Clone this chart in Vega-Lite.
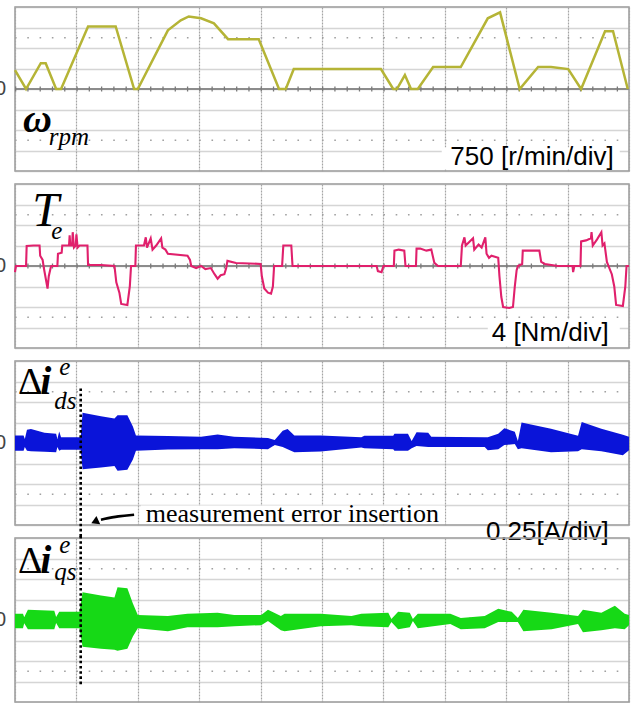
{
 "$schema": "https://vega.github.io/schema/vega-lite/v6.json",
 "padding": {"left": -6, "top": 6, "right": 0, "bottom": 0},
 "background": "white",
 "bounds": "flush",
 "spacing": 13,
 "config": {
  "view": {"stroke": "#9a9a9a", "strokeWidth": 1.5},
  "axis": {"labels": false, "ticks": false, "domain": false, "grid": true},
  "axisX": {"tickCount": 10, "gridColor": "#a5a5a5", "gridDash": [2, 1], "gridWidth": 1.2},
  "axisY": {"tickCount": 8, "gridColor": "#aaaaaa", "gridDash": [1, 1], "gridWidth": 1.6}
 },
 "datasets": {
  "hrows": [{"x": 0, "x2": 10, "y": 2.5}, {"x": 0, "x2": 10, "y": -2.5}],
  "crow": [{"x": 0, "x2": 10, "y": 0}],
  "zero": [{"x": 0, "y": 0, "t": "0"}],
  "speed": [{"x":0,"y":0.92},{"x":0.18,"y":0},{"x":0.42,"y":1.26},{"x":0.5,"y":1.26},{"x":0.67,"y":0},{"x":0.75,"y":0},{"x":1.19,"y":3.05},{"x":1.64,"y":3.05},{"x":1.94,"y":0},{"x":2.0,"y":0},{"x":2.49,"y":2.86},{"x":2.7,"y":3.35},{"x":2.83,"y":3.54},{"x":3.03,"y":3.45},{"x":3.24,"y":3.2},{"x":3.47,"y":2.43},{"x":3.97,"y":2.43},{"x":4.3,"y":0},{"x":4.41,"y":0},{"x":4.54,"y":0.97},{"x":5.96,"y":0.97},{"x":6.16,"y":0},{"x":6.22,"y":0},{"x":6.35,"y":0.68},{"x":6.45,"y":0},{"x":6.56,"y":0},{"x":6.81,"y":1.07},{"x":7.26,"y":1.07},{"x":7.7,"y":3.45},{"x":7.9,"y":3.74},{"x":8.22,"y":0},{"x":8.52,"y":1.07},{"x":8.73,"y":1.07},{"x":9.01,"y":0.97},{"x":9.22,"y":0},{"x":9.61,"y":2.82},{"x":9.74,"y":2.82},{"x":9.98,"y":0}],
  "torque": [{"x":0,"y":-0.3},{"x":0.015,"y":0},{"x":0.18,"y":0},{"x":0.19,"y":0.98},{"x":0.3,"y":1.0},{"x":0.4,"y":1.0},{"x":0.41,"y":0.5},{"x":0.45,"y":0.3},{"x":0.47,"y":-0.1},{"x":0.5,"y":-0.6},{"x":0.53,"y":-1.1},{"x":0.55,"y":-0.5},{"x":0.58,"y":-0.1},{"x":0.59,"y":0},{"x":0.69,"y":0},{"x":0.7,"y":0.6},{"x":0.76,"y":0.65},{"x":0.77,"y":1.0},{"x":0.88,"y":1.0},{"x":0.89,"y":1.5},{"x":0.9,"y":1.0},{"x":0.93,"y":1.0},{"x":0.94,"y":1.65},{"x":0.96,"y":0.9},{"x":0.99,"y":1.0},{"x":1.0,"y":1.55},{"x":1.02,"y":0.9},{"x":1.05,"y":1.0},{"x":1.18,"y":1.0},{"x":1.19,"y":0.05},{"x":1.4,"y":0.05},{"x":1.62,"y":0},{"x":1.65,"y":-0.8},{"x":1.7,"y":-1.3},{"x":1.73,"y":-1.85},{"x":1.83,"y":-1.9},{"x":1.87,"y":-1.0},{"x":1.89,"y":0},{"x":1.96,"y":0},{"x":1.97,"y":1.0},{"x":2.1,"y":1.0},{"x":2.13,"y":1.4},{"x":2.15,"y":0.9},{"x":2.21,"y":1.35},{"x":2.24,"y":0.8},{"x":2.3,"y":1.0},{"x":2.38,"y":1.35},{"x":2.4,"y":0.9},{"x":2.45,"y":0.8},{"x":2.49,"y":0.6},{"x":2.81,"y":0.5},{"x":2.85,"y":0.3},{"x":2.87,"y":0},{"x":2.95,"y":-0.1},{"x":3.03,"y":0},{"x":3.1,"y":-0.15},{"x":3.19,"y":-0.1},{"x":3.25,"y":-0.4},{"x":3.3,"y":-0.62},{"x":3.35,"y":-0.45},{"x":3.41,"y":-0.4},{"x":3.44,"y":-0.1},{"x":3.46,"y":0.25},{"x":3.6,"y":0.15},{"x":4.0,"y":0.1},{"x":4.02,"y":-0.5},{"x":4.06,"y":-1.1},{"x":4.12,"y":-1.3},{"x":4.17,"y":-1.35},{"x":4.2,"y":-1.0},{"x":4.22,"y":0},{"x":4.35,"y":0},{"x":4.37,"y":1.0},{"x":4.5,"y":1.0},{"x":4.52,"y":0},{"x":5.89,"y":0},{"x":5.91,"y":-0.25},{"x":5.97,"y":-0.3},{"x":6.0,"y":0},{"x":6.17,"y":0},{"x":6.18,"y":0.75},{"x":6.25,"y":0.8},{"x":6.34,"y":0.75},{"x":6.36,"y":0},{"x":6.53,"y":0},{"x":6.54,"y":0.85},{"x":6.6,"y":0.85},{"x":6.7,"y":0.75},{"x":6.78,"y":0.8},{"x":6.83,"y":0.15},{"x":6.89,"y":0},{"x":7.26,"y":0},{"x":7.28,"y":1.0},{"x":7.32,"y":1.4},{"x":7.34,"y":1.0},{"x":7.46,"y":1.35},{"x":7.48,"y":0.8},{"x":7.55,"y":1.05},{"x":7.6,"y":0.9},{"x":7.66,"y":1.4},{"x":7.68,"y":0.6},{"x":7.72,"y":0.4},{"x":7.76,"y":0.5},{"x":7.87,"y":0.4},{"x":7.89,"y":-0.5},{"x":7.92,"y":-1.5},{"x":7.95,"y":-2.0},{"x":8.05,"y":-2.05},{"x":8.11,"y":-2.0},{"x":8.14,"y":-1.0},{"x":8.17,"y":-0.2},{"x":8.19,"y":0},{"x":8.26,"y":0.1},{"x":8.27,"y":0.75},{"x":8.54,"y":0.75},{"x":8.57,"y":0.2},{"x":8.63,"y":0.1},{"x":8.84,"y":0},{"x":9.08,"y":0},{"x":9.09,"y":-0.3},{"x":9.11,"y":0},{"x":9.21,"y":0},{"x":9.22,"y":1.2},{"x":9.3,"y":1.25},{"x":9.38,"y":1.35},{"x":9.39,"y":1.65},{"x":9.41,"y":1.0},{"x":9.48,"y":1.3},{"x":9.55,"y":1.65},{"x":9.57,"y":1.0},{"x":9.6,"y":1.1},{"x":9.64,"y":0.2},{"x":9.68,"y":-0.1},{"x":9.72,"y":-0.4},{"x":9.76,"y":-1.0},{"x":9.79,"y":-1.9},{"x":9.9,"y":-1.95},{"x":9.94,"y":-1.0},{"x":9.96,"y":0},{"x":10.0,"y":0}],
  "ids": [{"x":0,"y":0.36,"y2":-0.38},{"x":0.14,"y":0.36,"y2":-0.38},{"x":0.16,"y":0.2,"y2":-0.2},{"x":0.195,"y":0.65,"y2":-0.38},{"x":0.26,"y":0.68,"y2":-0.4},{"x":0.48,"y":0.5,"y2":-0.43},{"x":0.67,"y":0.45,"y2":-0.45},{"x":0.69,"y":0.2,"y2":-0.2},{"x":0.72,"y":0.56,"y2":-0.38},{"x":0.75,"y":0.28,"y2":-0.33},{"x":1.07,"y":0.28,"y2":-0.33},{"x":1.1,"y":1.48,"y2":-1.28},{"x":1.4,"y":1.3,"y2":-1.2},{"x":1.62,"y":1.2,"y2":-1.12},{"x":1.67,"y":1.35,"y2":-1.35},{"x":1.83,"y":1.35,"y2":-1.3},{"x":1.92,"y":0.8,"y2":-0.8},{"x":1.97,"y":0.36,"y2":-0.38},{"x":2.49,"y":0.34,"y2":-0.32},{"x":3.03,"y":0.3,"y2":-0.3},{"x":3.3,"y":0.42,"y2":-0.3},{"x":3.57,"y":0.3,"y2":-0.25},{"x":4.12,"y":0.25,"y2":-0.3},{"x":4.23,"y":0.15,"y2":-0.1},{"x":4.36,"y":0.6,"y2":-0.2},{"x":4.44,"y":0.68,"y2":-0.3},{"x":4.55,"y":0.36,"y2":-0.45},{"x":4.98,"y":0.36,"y2":-0.42},{"x":5.64,"y":0.28,"y2":-0.22},{"x":5.69,"y":0.35,"y2":-0.25},{"x":6.16,"y":0.35,"y2":-0.3},{"x":6.18,"y":0.45,"y2":-0.38},{"x":6.4,"y":0.45,"y2":-0.38},{"x":6.46,"y":0.1,"y2":-0.25},{"x":6.54,"y":0.52,"y2":-0.15},{"x":6.73,"y":0.5,"y2":-0.2},{"x":6.78,"y":0.3,"y2":-0.2},{"x":7.65,"y":0.28,"y2":-0.2},{"x":7.7,"y":0.28,"y2":-0.35},{"x":7.87,"y":0.45,"y2":-0.3},{"x":7.97,"y":0.72,"y2":-0.1},{"x":8.14,"y":0.55,"y2":-0.05},{"x":8.19,"y":0.1,"y2":-0.3},{"x":8.25,"y":1.0,"y2":-0.25},{"x":8.73,"y":0.7,"y2":-0.45},{"x":9.17,"y":0.35,"y2":-0.4},{"x":9.23,"y":1.02,"y2":-0.3},{"x":9.55,"y":0.7,"y2":-0.4},{"x":9.9,"y":0.4,"y2":-0.6},{"x":10.0,"y":0.3,"y2":-0.35}],
  "iqs": [{"x":0,"y":0.3,"y2":-0.4},{"x":0.13,"y":0.3,"y2":-0.4},{"x":0.15,"y":0.13,"y2":-0.16},{"x":0.21,"y":0.5,"y2":-0.45},{"x":0.64,"y":0.45,"y2":-0.45},{"x":0.67,"y":0.15,"y2":-0.15},{"x":0.72,"y":0.4,"y2":-0.4},{"x":1.05,"y":0.4,"y2":-0.4},{"x":1.1,"y":1.35,"y2":-1.3},{"x":1.4,"y":1.2,"y2":-1.4},{"x":1.62,"y":1.1,"y2":-1.45},{"x":1.67,"y":1.6,"y2":-1.5},{"x":1.83,"y":1.55,"y2":-1.4},{"x":1.92,"y":0.8,"y2":-0.8},{"x":2.0,"y":0.25,"y2":-0.4},{"x":2.49,"y":0.2,"y2":-0.55},{"x":2.81,"y":0.3,"y2":-0.35},{"x":3.3,"y":0.35,"y2":-0.35},{"x":3.57,"y":0.25,"y2":-0.3},{"x":4.01,"y":0.25,"y2":-0.25},{"x":4.12,"y":0.5,"y2":-0.05},{"x":4.33,"y":0.2,"y2":-0.5},{"x":4.39,"y":0.3,"y2":-0.55},{"x":4.98,"y":0.3,"y2":-0.3},{"x":5.48,"y":0.2,"y2":-0.25},{"x":5.64,"y":0.3,"y2":-0.3},{"x":6.08,"y":0.35,"y2":-0.35},{"x":6.13,"y":0.05,"y2":-0.1},{"x":6.24,"y":0.4,"y2":-0.45},{"x":6.43,"y":0.35,"y2":-0.35},{"x":6.48,"y":0.05,"y2":-0.05},{"x":6.56,"y":0.3,"y2":-0.4},{"x":7.09,"y":0.3,"y2":-0.2},{"x":7.26,"y":0.1,"y2":-0.45},{"x":7.65,"y":0.2,"y2":-0.4},{"x":7.87,"y":0.55,"y2":-0.1},{"x":8.09,"y":0.4,"y2":-0.1},{"x":8.19,"y":0.1,"y2":-0.1},{"x":8.28,"y":0.5,"y2":-0.55},{"x":8.74,"y":0.35,"y2":-0.45},{"x":9.17,"y":0.2,"y2":-0.2},{"x":9.25,"y":0.5,"y2":-0.6},{"x":9.55,"y":0.35,"y2":-0.5},{"x":9.77,"y":0.7,"y2":-0.4},{"x":9.93,"y":0.3,"y2":-0.45},{"x":10.0,"y":0.25,"y2":-0.25}]
 },
 "vconcat": [
  {
   "width": 614, "height": 164,
   "encoding": {
    "x": {"field": "x", "type": "quantitative", "scale": {"domain": [0, 10], "nice": false, "zero": false}, "axis": {"title": null}},
    "y": {"field": "y", "type": "quantitative", "scale": {"domain": [-4, 4], "nice": false, "zero": false}, "axis": {"title": null}}
   },
   "layer": [
    {"data": {"name": "hrows"}, "mark": {"type": "rule", "stroke": "#a0a0a0", "strokeWidth": 1.6, "strokeDash": [1.6, 10.68]}, "encoding": {"x2": {"field": "x2"}}},
    {"data": {"name": "crow"}, "mark": {"type": "rule", "stroke": "#8c8c8c", "strokeWidth": 2}, "encoding": {"x2": {"field": "x2"}}},
    {"data": {"name": "crow"}, "mark": {"type": "rule", "stroke": "#7a7a7a", "strokeWidth": 5, "strokeDash": [1.3, 10.98]}, "encoding": {"x2": {"field": "x2"}}},
    {"data": {"name": "speed"}, "mark": {"type": "line", "stroke": "#b5b436", "strokeWidth": 2.5}},
    {"data": {"values": [{"x": 6.95, "x2": 9.85, "y": -2.85, "y2": -3.92}]}, "mark": {"type": "rect", "fill": "white"}, "encoding": {"x2": {"field": "x2"}, "y2": {"field": "y2"}}},
    {"data": {"values": [{"x": 9.75, "y": -3.69, "t": "750 [r/min/div]"}]}, "mark": {"type": "text", "align": "right", "baseline": "alphabetic", "font": "Liberation Sans", "fontSize": 26, "color": "black"}, "encoding": {"text": {"field": "t"}}},
    {"data": {"name": "zero"}, "mark": {"type": "text", "align": "right", "baseline": "middle", "dx": -9, "font": "Liberation Sans", "fontSize": 20, "color": "#444"}, "encoding": {"text": {"field": "t"}}},
    {"data": {"values": [{"x": 0.13, "y": -2.09, "t": "ω"}]}, "mark": {"type": "text", "align": "left", "baseline": "alphabetic", "font": "Liberation Serif", "fontStyle": "italic", "fontWeight": "bold", "fontSize": 40, "color": "black"}, "encoding": {"text": {"field": "t"}}},
    {"data": {"values": [{"x": 0.55, "y": -2.72, "t": "rpm"}]}, "mark": {"type": "text", "align": "left", "baseline": "alphabetic", "font": "Liberation Serif", "fontStyle": "italic", "fontSize": 25, "color": "black"}, "encoding": {"text": {"field": "t"}}}
   ]
  },
  {
   "width": 614, "height": 164,
   "encoding": {
    "x": {"field": "x", "type": "quantitative", "scale": {"domain": [0, 10], "nice": false, "zero": false}, "axis": {"title": null}},
    "y": {"field": "y", "type": "quantitative", "scale": {"domain": [-4, 4], "nice": false, "zero": false}, "axis": {"title": null}}
   },
   "layer": [
    {"data": {"name": "hrows"}, "mark": {"type": "rule", "stroke": "#a0a0a0", "strokeWidth": 1.6, "strokeDash": [1.6, 10.68]}, "encoding": {"x2": {"field": "x2"}}},
    {"data": {"name": "crow"}, "mark": {"type": "rule", "stroke": "#8c8c8c", "strokeWidth": 2}, "encoding": {"x2": {"field": "x2"}}},
    {"data": {"name": "crow"}, "mark": {"type": "rule", "stroke": "#7a7a7a", "strokeWidth": 5, "strokeDash": [1.3, 10.98]}, "encoding": {"x2": {"field": "x2"}}},
    {"data": {"name": "torque"}, "mark": {"type": "line", "stroke": "#e0206c", "strokeWidth": 2.1}},
    {"data": {"values": [{"x": 7.7, "x2": 9.85, "y": -2.6, "y2": -3.92}]}, "mark": {"type": "rect", "fill": "white"}, "encoding": {"x2": {"field": "x2"}, "y2": {"field": "y2"}}},
    {"data": {"values": [{"x": 9.67, "y": -3.68, "t": "4 [Nm/div]"}]}, "mark": {"type": "text", "align": "right", "baseline": "alphabetic", "font": "Liberation Sans", "fontSize": 26, "color": "black"}, "encoding": {"text": {"field": "t"}}},
    {"data": {"name": "zero"}, "mark": {"type": "text", "align": "right", "baseline": "middle", "dx": -9, "font": "Liberation Sans", "fontSize": 20, "color": "#444"}, "encoding": {"text": {"field": "t"}}},
    {"data": {"values": [{"x": 0.28, "y": 1.96, "t": "T"}]}, "mark": {"type": "text", "align": "left", "baseline": "alphabetic", "font": "Liberation Serif", "fontStyle": "italic", "fontSize": 48, "color": "black"}, "encoding": {"text": {"field": "t"}}},
    {"data": {"values": [{"x": 0.59, "y": 1.32, "t": "e"}]}, "mark": {"type": "text", "align": "left", "baseline": "alphabetic", "font": "Liberation Serif", "fontStyle": "italic", "fontSize": 25, "color": "black"}, "encoding": {"text": {"field": "t"}}}
   ]
  },
  {
   "width": 614, "height": 164,
   "encoding": {
    "x": {"field": "x", "type": "quantitative", "scale": {"domain": [0, 10], "nice": false, "zero": false}, "axis": {"title": null}},
    "y": {"field": "y", "type": "quantitative", "scale": {"domain": [-4, 4], "nice": false, "zero": false}, "axis": {"title": null}}
   },
   "layer": [
    {"data": {"name": "hrows"}, "mark": {"type": "rule", "stroke": "#a0a0a0", "strokeWidth": 1.6, "strokeDash": [1.6, 10.68]}, "encoding": {"x2": {"field": "x2"}}},
    {"data": {"name": "crow"}, "mark": {"type": "rule", "stroke": "#8c8c8c", "strokeWidth": 2}, "encoding": {"x2": {"field": "x2"}}},
    {"data": {"name": "crow"}, "mark": {"type": "rule", "stroke": "#7a7a7a", "strokeWidth": 5, "strokeDash": [1.3, 10.98]}, "encoding": {"x2": {"field": "x2"}}},
    {"data": {"name": "ids"}, "mark": {"type": "area", "fill": "#0a14d9", "opacity": 1}, "encoding": {"y2": {"field": "y2"}}},
    {"data": {"values": [{"x": 2.05, "x2": 7.0, "y": -3.05, "y2": -3.95}]}, "mark": {"type": "rect", "fill": "white"}, "encoding": {"x2": {"field": "x2"}, "y2": {"field": "y2"}}},
    {"data": {"values": [{"x": 1.07, "y": 2.66, "y2": -4.7}]}, "mark": {"type": "rule", "stroke": "black", "strokeWidth": 2.6, "strokeDash": [2.6, 2.6]}, "encoding": {"y2": {"field": "y2"}}},
    {"data": {"values": [{"x": 1.94, "y": -3.5}, {"x": 1.69, "y": -3.56}, {"x": 1.4, "y": -3.74}]}, "mark": {"type": "line", "stroke": "black", "strokeWidth": 2.6, "interpolate": "basis"}},
    {"data": {"values": [{"x": 1.3, "y": -3.84}]}, "mark": {"type": "point", "shape": "triangle-left", "filled": true, "color": "black", "opacity": 1, "size": 80, "angle": 335}},
    {"data": {"values": [{"x": 2.13, "y": -3.84, "t": "measurement error insertion"}]}, "mark": {"type": "text", "align": "left", "baseline": "alphabetic", "font": "Liberation Serif", "fontSize": 26, "color": "black"}, "encoding": {"text": {"field": "t"}}},
    {"data": {"values": [{"x": 9.67, "y": -4.72, "t": "0.25[A/div]"}]}, "mark": {"type": "text", "align": "right", "baseline": "alphabetic", "font": "Liberation Sans", "fontSize": 26, "color": "black"}, "encoding": {"text": {"field": "t"}}},
    {"data": {"name": "zero"}, "mark": {"type": "text", "align": "right", "baseline": "middle", "dx": -9, "font": "Liberation Sans", "fontSize": 20, "color": "#444"}, "encoding": {"text": {"field": "t"}}},
    {"data": {"values": [{"x": 0.05, "y": 2.41, "t": "Δ"}]}, "mark": {"type": "text", "align": "left", "baseline": "alphabetic", "font": "Liberation Serif", "fontSize": 38, "color": "black"}, "encoding": {"text": {"field": "t"}}},
    {"data": {"values": [{"x": 0.41, "y": 2.41, "t": "i"}]}, "mark": {"type": "text", "align": "left", "baseline": "alphabetic", "font": "Liberation Serif", "fontStyle": "italic", "fontWeight": "bold", "fontSize": 40, "color": "black"}, "encoding": {"text": {"field": "t"}}},
    {"data": {"values": [{"x": 0.72, "y": 3.3, "t": "e"}, {"x": 0.64, "y": 1.67, "t": "ds"}]}, "mark": {"type": "text", "align": "left", "baseline": "alphabetic", "font": "Liberation Serif", "fontStyle": "italic", "fontSize": 25, "color": "black"}, "encoding": {"text": {"field": "t"}}}
   ]
  },
  {
   "width": 614, "height": 164,
   "encoding": {
    "x": {"field": "x", "type": "quantitative", "scale": {"domain": [0, 10], "nice": false, "zero": false}, "axis": {"title": null}},
    "y": {"field": "y", "type": "quantitative", "scale": {"domain": [-4, 4], "nice": false, "zero": false}, "axis": {"title": null}}
   },
   "layer": [
    {"data": {"name": "hrows"}, "mark": {"type": "rule", "stroke": "#a0a0a0", "strokeWidth": 1.6, "strokeDash": [1.6, 10.68]}, "encoding": {"x2": {"field": "x2"}}},
    {"data": {"name": "crow"}, "mark": {"type": "rule", "stroke": "#8c8c8c", "strokeWidth": 2}, "encoding": {"x2": {"field": "x2"}}},
    {"data": {"name": "crow"}, "mark": {"type": "rule", "stroke": "#7a7a7a", "strokeWidth": 5, "strokeDash": [1.3, 10.98]}, "encoding": {"x2": {"field": "x2"}}},
    {"data": {"name": "iqs"}, "mark": {"type": "area", "fill": "#16d916", "opacity": 1}, "encoding": {"y2": {"field": "y2"}}},
    {"data": {"values": [{"x": 1.07, "y": 4.1, "y2": -3.16}]}, "mark": {"type": "rule", "stroke": "black", "strokeWidth": 2.6, "strokeDash": [2.6, 2.6]}, "encoding": {"y2": {"field": "y2"}}},
    {"data": {"name": "zero"}, "mark": {"type": "text", "align": "right", "baseline": "middle", "dx": -9, "font": "Liberation Sans", "fontSize": 20, "color": "#444"}, "encoding": {"text": {"field": "t"}}},
    {"data": {"values": [{"x": 0.05, "y": 2.28, "t": "Δ"}]}, "mark": {"type": "text", "align": "left", "baseline": "alphabetic", "font": "Liberation Serif", "fontSize": 38, "color": "black"}, "encoding": {"text": {"field": "t"}}},
    {"data": {"values": [{"x": 0.41, "y": 2.28, "t": "i"}]}, "mark": {"type": "text", "align": "left", "baseline": "alphabetic", "font": "Liberation Serif", "fontStyle": "italic", "fontWeight": "bold", "fontSize": 40, "color": "black"}, "encoding": {"text": {"field": "t"}}},
    {"data": {"values": [{"x": 0.72, "y": 3.25, "t": "e"}, {"x": 0.64, "y": 1.94, "t": "qs"}]}, "mark": {"type": "text", "align": "left", "baseline": "alphabetic", "font": "Liberation Serif", "fontStyle": "italic", "fontSize": 25, "color": "black"}, "encoding": {"text": {"field": "t"}}}
   ]
  }
 ]
}
